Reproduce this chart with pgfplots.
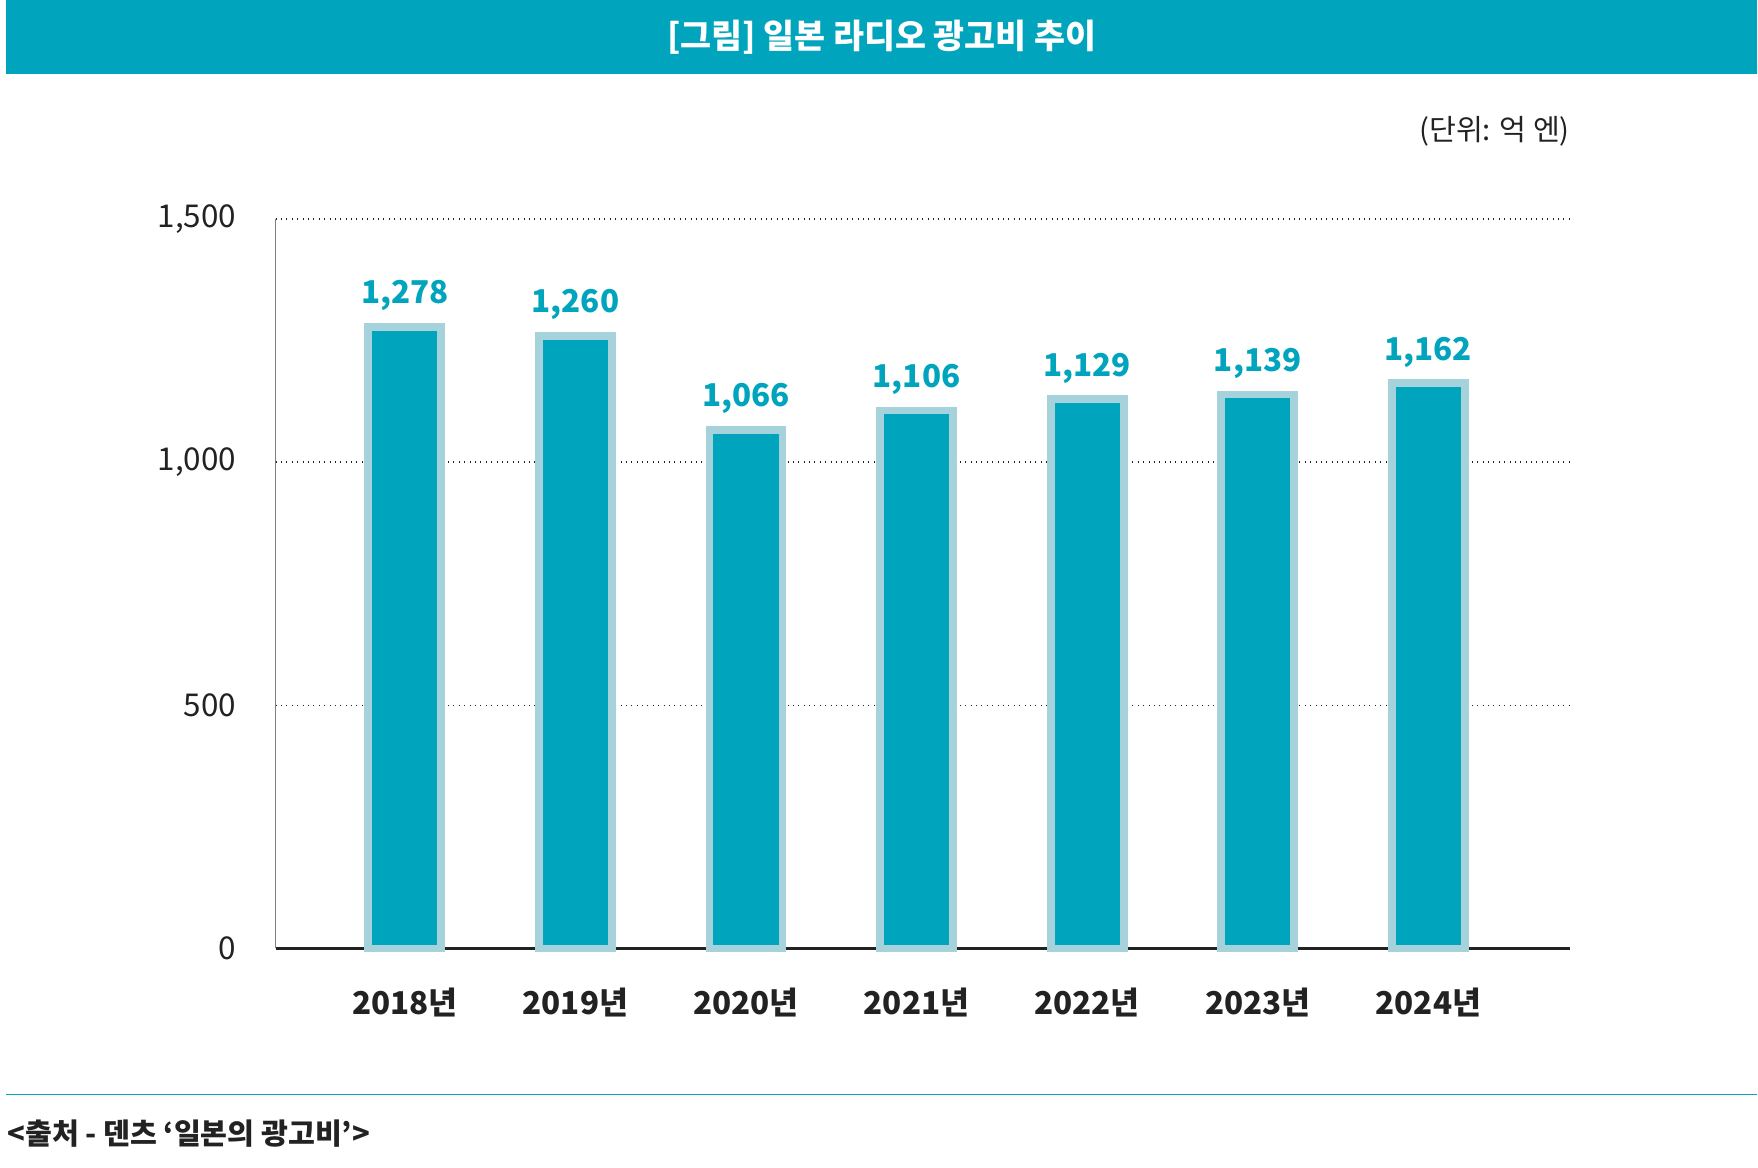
\documentclass[border=0pt]{standalone}
\usepackage{pgfplots}
\pgfplotsset{compat=1.18}
\usepackage{fontspec}
\setmainfont{Noto Sans CJK KR}
\definecolor{teal1}{HTML}{00A5BD}
\definecolor{edge}{HTML}{A6D3DB}
\definecolor{txt}{HTML}{222222}
\begin{document}
\begin{tikzpicture}[x=1pt,y=1pt]
\path[fill=white] (0,0) rectangle (780,520);
\fill[teal1] (0,487) rectangle (780,520);
\node[white,font=\bfseries\fontsize{15}{18}\selectfont] at (390,503.5) {[그림] 일본 라디오 광고비 추이};
\node[anchor=east,txt,font=\fontsize{13}{16}\selectfont] at (700,461.5) {(단위: 억 엔)};
\draw[teal1,line width=0.6pt] (0,32.5) -- (780,32.5);
\node[anchor=west,txt,font=\bfseries\fontsize{13}{16}\selectfont] at (-3,15) {<출처 - 덴츠 ‘일본의 광고비’>};
\begin{axis}[at={(120pt,97.5pt)},anchor=south west,scale only axis,
  width=576.5pt,height=325pt,
  xmin=-0.757,xmax=6.83,ymin=0,ymax=1500,
  axis x line*=bottom, axis y line*=left,
  x axis line style={txt,line width=1pt,-},
  y axis line style={gray,line width=0.6pt,-},
  ytick={0,500,1000,1500},
  yticklabels={0,500,{1,000},{1,500}},
  ymajorgrids, grid style={dotted,txt,line width=0.6pt},
  major tick length=0pt,
  yticklabel style={txt,font=\fontsize{14}{16}\selectfont,xshift=-14pt},
  xtick=data,
  xticklabels={2018년,2019년,2020년,2021년,2022년,2023년,2024년},
  xticklabel style={txt,font=\bfseries\fontsize{14}{16}\selectfont,yshift=-14pt},
  ybar, bar width=32.5pt,
  nodes near coords={\pgfmathprintnumber[assume math mode=true,1000 sep={,}]{\pgfplotspointmeta}},
  nodes near coords style={teal1,font=\bfseries\fontsize{14}{16}\selectfont,yshift=2pt},
  clip=false]
\addplot[fill=teal1,draw=edge,line width=3.5pt] coordinates {(0,1278)(1,1260)(2,1066)(3,1106)(4,1129)(5,1139)(6,1162)};
\end{axis}
\end{tikzpicture}
\end{document}
